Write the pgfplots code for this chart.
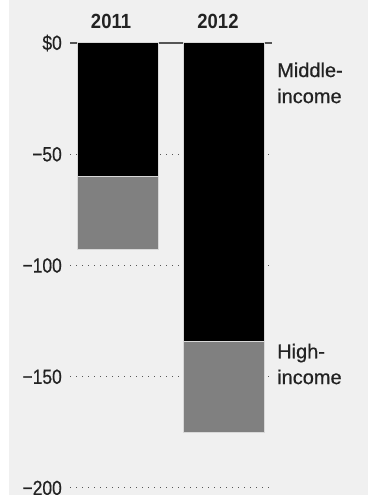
\documentclass[border=0pt]{standalone}
\usepackage{fontspec}
\setmainfont{Liberation Sans}[FakeBold=0.5]
\newfontfamily\narrowfont{Liberation Sans}[FakeStretch=0.85,FakeBold=0.5]
\newfontfamily\yearfont{Liberation Sans Bold}[FakeStretch=0.9]
\usepackage{pgfplots}
\pgfplotsset{compat=1.18}
\definecolor{bg}{HTML}{F0F0F0}
\definecolor{barline}{HTML}{D8D8D8}
\definecolor{highgray}{HTML}{808080}
\definecolor{gridc}{HTML}{555555}
\definecolor{txt}{HTML}{222222}
\begin{document}
\begin{tikzpicture}
\useasboundingbox (0,0) rectangle (368pt,495pt);
\fill[white] (0,0) rectangle (368pt,495pt);
\fill[bg] (9pt,0) rectangle (368pt,495pt);
\begin{axis}[
  at={(70pt,7pt)}, anchor=south west,
  scale only axis, width=202pt, height=445pt,
  xmin=-0.444, xmax=1.444, ymin=-200, ymax=0,
  ybar stacked, bar width=81pt,
  axis line style={draw=none},
  major tick length=0pt,
  xtick=\empty,
  ytick={-200,-150,-100,-50,0},
  yticklabels={−200,−150,−100,−50,\$0},
  yticklabel style={font=\narrowfont\fontsize{20.5}{20.5}\selectfont, text=txt, inner sep=0pt, xshift=-8pt},
  ymajorgrids,
  grid style={gridc, line width=1pt, dash pattern=on 1pt off 5pt},
  clip=false,
]
\addplot[fill=black, draw=barline, line width=1pt] coordinates {(0,-60) (1,-134)};
\addplot[fill=highgray, draw=barline, line width=1pt] coordinates {(0,-33) (1,-41)};
\draw[gridc, line width=2pt] (axis cs:-0.444,0) -- (axis cs:1.444,0);
\node[anchor=base, inner sep=0pt, text=txt, font=\yearfont\fontsize{20.5}{20.5}\selectfont, xshift=-6.5pt] at (axis cs:0,6.7) {2011};
\node[anchor=base, inner sep=0pt, text=txt, font=\yearfont\fontsize{20.5}{20.5}\selectfont, xshift=-6.5pt] at (axis cs:1,6.7) {2012};
\node[anchor=base west, inner sep=0pt, text=txt, font=\fontsize{20}{20}\selectfont, xshift=5pt] at (axis cs:1.444,-15.3) {Middle-};
\node[anchor=base west, inner sep=0pt, text=txt, font=\fontsize{20}{20}\selectfont, xshift=5pt] at (axis cs:1.444,-27) {income};
\node[anchor=base west, inner sep=0pt, text=txt, font=\fontsize{20}{20}\selectfont, xshift=5pt] at (axis cs:1.444,-141.7) {High-};
\node[anchor=base west, inner sep=0pt, text=txt, font=\fontsize{20}{20}\selectfont, xshift=5pt] at (axis cs:1.444,-153.3) {income};
\end{axis}
\end{tikzpicture}
\end{document}
